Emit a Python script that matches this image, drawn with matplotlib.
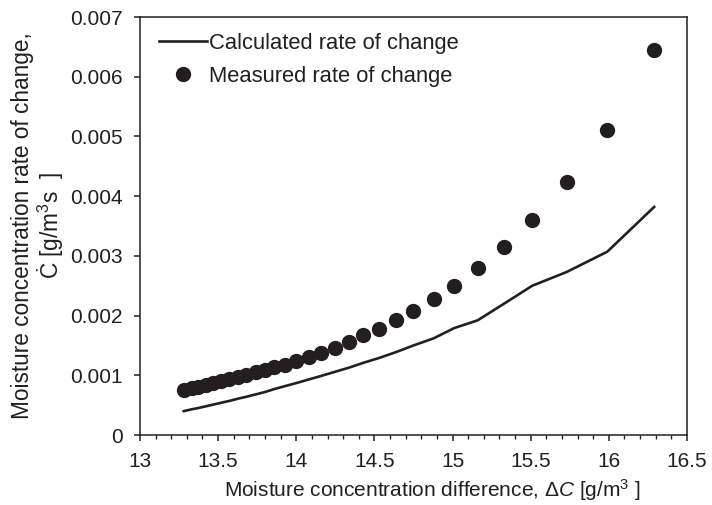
import matplotlib
matplotlib.use("Agg")
import matplotlib.pyplot as plt
from matplotlib.ticker import MultipleLocator, FuncFormatter

plt.rcParams['font.family'] = ['Liberation Sans', 'DejaVu Sans']
plt.rcParams['mathtext.fontset'] = 'custom'
plt.rcParams['mathtext.rm'] = 'Liberation Sans'
plt.rcParams['mathtext.it'] = 'Liberation Sans:italic'

# moisture concentration difference [g/m3]
delta_c = [13.28, 13.33, 13.37, 13.42, 13.47, 13.52, 13.57, 13.63, 13.68, 13.74,
           13.80, 13.86, 13.93, 14.00, 14.08, 14.16, 14.25, 14.34, 14.43, 14.53,
           14.64, 14.75, 14.88, 15.01, 15.16, 15.33, 15.51, 15.73, 15.99, 16.29]

measured = [0.00075, 0.00078, 0.00081, 0.00084, 0.00087, 0.00090, 0.00094, 0.00097,
            0.00101, 0.00105, 0.00109, 0.00114, 0.00118, 0.00124, 0.00130, 0.00137,
            0.00146, 0.00156, 0.00167, 0.00178, 0.00192, 0.00208, 0.00227, 0.00250,
            0.00279, 0.00315, 0.00360, 0.00423, 0.00510, 0.00645]

calculated = [0.00040, 0.00043, 0.00045, 0.00048, 0.00051, 0.00054, 0.00057, 0.00061,
              0.00064, 0.00068, 0.00072, 0.00077, 0.00082, 0.00087, 0.00093, 0.00099,
              0.00106, 0.00113, 0.00121, 0.00129, 0.00139, 0.00150, 0.00162, 0.00179,
              0.00192, 0.00220, 0.00250, 0.00273, 0.00307, 0.00382]

ink = '#231f20'

fig = plt.figure(figsize=(7.12, 5.05), dpi=100)
ax = fig.add_axes([0.1966, 0.1386, 0.7683, 0.8277])

ax.plot(delta_c, calculated, color=ink, lw=1.9, label='Calculated rate of change')
ax.plot(delta_c, measured, 'o', color=ink, ms=10, label='Measured rate of change')

ax.set_xlim(13, 16.5)
ax.set_ylim(0, 0.007)
ax.xaxis.set_major_locator(MultipleLocator(0.5))
ax.xaxis.set_minor_locator(MultipleLocator(0.1))
ax.yaxis.set_major_locator(MultipleLocator(0.001))
ax.xaxis.set_major_formatter(FuncFormatter(lambda v, p: '%g' % v))
ax.yaxis.set_major_formatter(FuncFormatter(lambda v, p: '0' if abs(v) < 1e-9 else '%.3f' % v))

for s in ax.spines.values():
    s.set_linewidth(1.1)
    s.set_color(ink)
ax.tick_params(which='major', direction='out', length=4.5, width=1.1, labelsize=15,
               colors=ink, labelcolor=ink, pad=8)
ax.tick_params(which='minor', direction='out', length=3, width=1.0, colors=ink)

ax.set_xlabel('Moisture concentration difference, $\\mathit{\u0394C}$ [g/m$^3$ ]',
              fontsize=15, color=ink)
ax.xaxis.set_label_coords(0.535, -0.1)
ax.set_ylabel('Moisture concentration rate of change,\n\u010a [g/m$^3$s  ]',
              fontsize=16.3, color=ink, labelpad=3, linespacing=1.05)

leg = ax.legend(loc='upper left', bbox_to_anchor=(0.034, 0.962), frameon=False,
                fontsize=15.8, handlelength=2.2, handletextpad=0.1,
                labelspacing=0.55, borderaxespad=0, borderpad=0)
for t in leg.get_texts():
    t.set_color(ink)

fig.savefig('out.png', dpi=100)
